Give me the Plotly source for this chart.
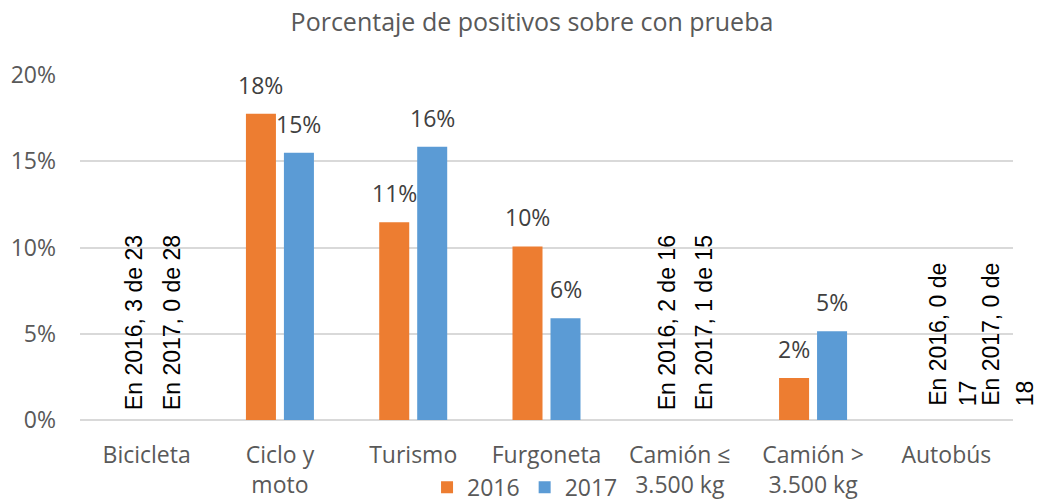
import plotly.graph_objects as go

categories = ["Bicicleta", "Ciclo y<br>moto", "Turismo", "Furgoneta",
              "Camión ≤<br>3.500 kg", "Camión ><br>3.500 kg", "Autobús"]
values_2016 = [0, 0.1775, 0.1146, 0.1006, 0, 0.0243, 0]
values_2017 = [0, 0.1549, 0.1584, 0.0590, 0, 0.0514, 0]
y_ticks = [0, 0.05, 0.10, 0.15, 0.20]
y_tick_labels = ["0%", "5%", "10%", "15%", "20%"]

# text labels shown for categories without positives
zero_label_cats = ["Bicicleta", "Bicicleta",
                   "Camión ≤<br>3.500 kg", "Camión ≤<br>3.500 kg",
                   "Autobús", "Autobús", "Autobús", "Autobús"]
zero_label_texts = ["En 2016, 3 de 23", "En 2017, 0 de 28",
                    "En 2016, 2 de 16", "En 2017, 1 de 15",
                    "En 2016, 0 de", "17", "En 2017, 0 de", "18"]
zero_label_shifts = [-13, 25, -13, 24, -9, 22, 44, 79]
zero_label_yshifts = [8, 8, 8, 8, 12, 12, 12, 12]

ORANGE = "#ED7D31"
BLUE = "#5B9BD5"
GREY = "#595959"
FONT = "Open Sans"

fig = go.Figure()
fig.add_trace(go.Bar(x=categories, y=values_2016, name="2016",
                     marker=dict(color=ORANGE, line=dict(width=0))))
fig.add_trace(go.Bar(x=categories, y=values_2017, name="2017",
                     marker=dict(color=BLUE, line=dict(width=0))))

annotations = []
for vals, shift in ((values_2016, -19), (values_2017, 19)):
    for c, v in zip(categories, vals):
        if v > 0:
            annotations.append(dict(
                x=c, y=v, xref="x", yref="y", text=f"{v*100:.0f}%",
                showarrow=False, xanchor="center", yanchor="bottom",
                xshift=shift, yshift=11,
                font=dict(family=FONT, size=23, color="#404040")))

for c, t, s, ys in zip(zero_label_cats, zero_label_texts, zero_label_shifts,
                       zero_label_yshifts):
    annotations.append(dict(
        x=c, y=0, xref="x", yref="y", text=t, textangle=-90,
        showarrow=False, xanchor="center", yanchor="bottom",
        xshift=s, yshift=ys,
        font=dict(family="Liberation Sans", size=23, color="#000000")))

fig.update_layout(
    width=1037, height=502,
    margin=dict(l=80, r=24, t=75, b=82, autoexpand=False),
    paper_bgcolor="white", plot_bgcolor="white",
    barmode="group", bargap=0.43, bargroupgap=0.21,
    title=dict(text="Porcentaje de positivos sobre con prueba",
               x=0.513, xanchor="center", y=0.955, yanchor="middle",
               font=dict(family=FONT, size=25, color=GREY)),
    font=dict(family=FONT, size=23, color=GREY),
    legend=dict(orientation="h", x=0.477, xanchor="center",
                y=-0.195, yanchor="middle",
                font=dict(family=FONT, size=23, color=GREY),
                itemwidth=30, bgcolor="rgba(0,0,0,0)"),
    annotations=annotations,
)
fig.update_xaxes(range=[-0.5, len(categories) - 0.5], autorange=False,
                 showgrid=False, showline=False, ticks="", automargin=False,
                 tickfont=dict(family=FONT, size=23, color=GREY),
                 ticklabelstandoff=19)
fig.update_yaxes(range=[0, 0.2], autorange=False,
                 tickvals=y_ticks, ticktext=y_tick_labels,
                 showgrid=True, gridcolor="#d9d9d9", gridwidth=2,
                 zeroline=True, zerolinecolor="#d9d9d9", zerolinewidth=2,
                 showline=False, ticks="", automargin=False,
                 tickfont=dict(family=FONT, size=23, color=GREY),
                 ticklabelstandoff=23)

fig.write_html("out.html", config={"displayModeBar": False},
               post_script="document.body.style.margin='0px';"
                           "document.body.style.overflow='hidden';")
